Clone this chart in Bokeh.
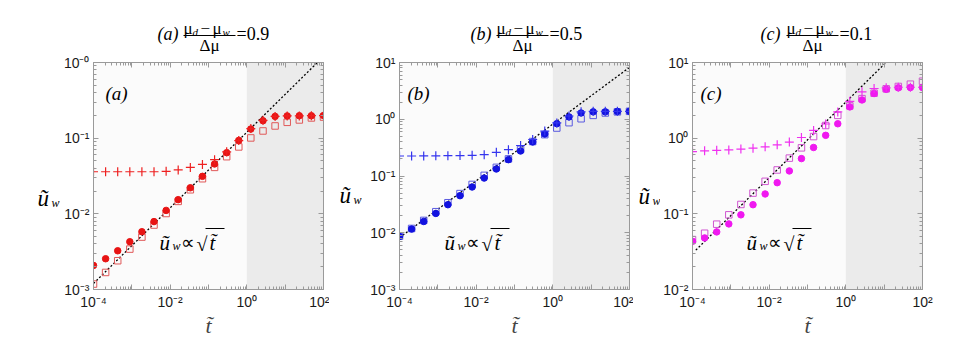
import numpy as np
from bokeh.plotting import figure
from bokeh.models import (Label, BoxAnnotation, FixedTicker, CustomJSTickFormatter,
                          LogAxis, Range1d)
from bokeh.layouts import row, column
from bokeh.embed import file_html
from bokeh.resources import INLINE

# ---------------- data ----------------
T = [1.0e-4, 2.07e-4, 4.28e-4, 8.86e-4, 1.83e-3, 3.79e-3, 7.85e-3, 1.62e-2, 3.36e-2,
     6.95e-2, 0.144, 0.298, 0.616, 1.27, 2.64, 5.46, 11.3, 23.4, 48.3, 100.0]

A_CROSS = [0.036, 0.036, 0.036, 0.036, 0.036, 0.036, 0.0365, 0.038, 0.041, 0.045,
           0.052, 0.066, 0.093, 0.134, 0.172, 0.194, 0.197, 0.197, 0.198, 0.198]
A_CIRCLE = [0.00208, 0.00255, 0.00325, 0.00428, 0.0058, 0.0079, 0.0111, 0.0154, 0.0221, 0.0313,
            0.0456, 0.0643, 0.0935, 0.132, 0.17, 0.194, 0.197, 0.198, 0.198, 0.199]
A_SQUARE = [0.00118, 0.00168, 0.0024, 0.00342, 0.00493, 0.00711, 0.0101, 0.0146, 0.0208, 0.0291,
            0.0411, 0.0569, 0.0766, 0.1007, 0.1245, 0.145, 0.162, 0.174, 0.185, 0.19]

B_CROSS = [0.225, 0.225, 0.226, 0.227, 0.228, 0.229, 0.231, 0.238, 0.261, 0.291,
           0.345, 0.44, 0.62, 0.86, 1.14, 1.35, 1.38, 1.38, 1.38, 1.38]
B_CIRCLE = [0.0086, 0.0116, 0.0158, 0.0219, 0.0312, 0.045, 0.064, 0.092, 0.133, 0.194,
            0.276, 0.398, 0.55, 0.836, 1.1, 1.29, 1.35, 1.35, 1.37, 1.38]
B_SQUARE = [0.0087, 0.0119, 0.0165, 0.0235, 0.0338, 0.049, 0.071, 0.1026, 0.142, 0.2,
            0.294, 0.405, 0.535, 0.70, 0.87, 1.02, 1.17, 1.29, 1.35, 1.38]

C_CROSS = [0.665, 0.68, 0.69, 0.70, 0.717, 0.738, 0.769, 0.817, 0.887, 1.02,
           1.265, 1.54, 2.22, 3.07, 4.1, 4.53, 4.63, 4.71, 4.71, 4.71]
C_CIRCLE = [0.0433, 0.048, 0.0577, 0.0736, 0.097, 0.132, 0.183, 0.258, 0.369, 0.537,
            0.753, 1.09, 1.55, 2.59, 3.2, 3.89, 4.43, 4.63, 4.67, 4.67]
C_SQUARE = [0.0457, 0.0554, 0.073, 0.097, 0.133, 0.188, 0.269, 0.38, 0.545, 0.745,
            1.05, 1.47, 2.0, 2.67, 3.33, 3.93, 4.49, 4.82, 5.17, 5.66]

# reference line  u = coef * sqrt(t)
LINE_COEF = {"a": 0.12, "b": 0.82, "c": 3.0}
LINE_T0 = {"a": 1.0e-4, "b": 1.0e-4, "c": 1.22e-4}
SHADE_START = 1.0

X_EXPS = [-4, -2, 0, 2]
X_LABELS = ["10⁻⁴", "10⁻²", "10⁰", "10²"]
A_Y_EXPS = [-3, -2, -1, 0]
A_Y_LABELS = ["10⁻³", "10⁻²", "10⁻¹", "10⁻⁰"]
B_Y_EXPS = [-3, -2, -1, 0, 1]
B_Y_LABELS = ["10⁻³", "10⁻²", "10⁻¹", "10⁰", "10¹"]
C_Y_EXPS = [-2, -1, 0, 1]
C_Y_LABELS = ["10⁻²", "10⁻¹", "10⁰", "10¹"]

TITLE_VALUES = {"a": "=0.9", "b": "=0.5", "c": "=0.1"}

SERIF = "Liberation Serif"
SANS = "Liberation Sans"
FW, FH = 230, 227
AX_COL = "#9a9a9a"
TITLE_H = 54          # height of the title strip
MAIN_TOP = 8          # top border of the main plot
MAIN_BOTTOM = 40
MAIN_H = MAIN_TOP + FH + MAIN_BOTTOM


def fmt(exps, labels):
    return CustomJSTickFormatter(args=dict(exps=exps, labs=labels), code="""
        const e = Math.round(Math.log10(tick));
        const i = exps.indexOf(e);
        return i >= 0 ? labs[i] : "";
    """)


def log_ticker(e0, e1):
    major = [10.0 ** e for e in range(e0, e1 + 1)]
    minor = [m * 10.0 ** e for e in range(e0, e1) for m in range(2, 10)]
    return FixedTicker(ticks=major, minor_ticks=minor)


def style_axis(ax, blank=False):
    ax.major_tick_in = 5
    ax.major_tick_out = 0
    ax.minor_tick_in = 3
    ax.minor_tick_out = 0
    ax.axis_line_color = AX_COL
    ax.major_tick_line_color = AX_COL
    ax.minor_tick_line_color = AX_COL
    ax.major_label_text_font = SANS
    ax.major_label_text_color = "#1a1a1a"
    ax.major_label_text_font_size = "1px" if blank else "14px"
    ax.major_label_standoff = 0 if blank else 4


def label(fig, x, y, text, size, style="normal", align="left", baseline="alphabetic"):
    fig.add_layout(Label(x=x, y=y, x_units="screen", y_units="screen", text=text,
                         text_font=SERIF, text_font_size=f"{size}px", text_font_style=style,
                         text_align=align, text_baseline=baseline, text_color="black"))


def bar(fig, x0, x1, y, thick=1.0):
    fig.add_layout(BoxAnnotation(left=x0, right=x1, top=y + thick / 2, bottom=y - thick / 2,
                                 left_units="screen", right_units="screen", top_units="screen",
                                 bottom_units="screen", fill_color="black", fill_alpha=1.0,
                                 line_color=None, level="overlay"))


def text_strip(w, h):
    f = figure(x_range=Range1d(0, w), y_range=Range1d(0, h), frame_width=w, frame_height=h,
               min_border_left=0, min_border_right=0, min_border_top=0, min_border_bottom=0,
               x_axis_location=None, y_axis_location=None, output_backend="svg",
               toolbar_location=None)
    f.grid.visible = False
    f.outline_line_color = None
    f.background_fill_color = "white"
    f.border_fill_color = "white"
    return f


def make_panel(key, yexps, ylabels, cross, circle, square, colors,
               fig_left, ylab_w, L, R, title_dx, ylab_x, ylab_base, ann_dx):
    e0, e1 = yexps[0], yexps[-1]
    frame_left = fig_left + ylab_w + L

    p = figure(x_axis_type="log", y_axis_type="log",
               x_range=Range1d(1e-4, 1e2), y_range=Range1d(10.0 ** e0, 10.0 ** e1),
               frame_width=FW, frame_height=FH,
               min_border_left=L, min_border_right=R, min_border_top=MAIN_TOP,
               min_border_bottom=MAIN_BOTTOM, output_backend="svg", toolbar_location=None)
    p.grid.visible = False
    p.background_fill_color = "#fbfbfb"
    p.border_fill_color = "white"
    p.outline_line_color = AX_COL

    xt = log_ticker(-4, 2)
    yt = log_ticker(e0, e1)
    p.xaxis.ticker = xt
    p.yaxis.ticker = yt
    p.xaxis.formatter = fmt(X_EXPS, X_LABELS)
    p.yaxis.formatter = fmt(yexps, ylabels)
    style_axis(p.xaxis[0])
    style_axis(p.yaxis[0])
    p.xaxis.axis_label = "t̃"
    p.xaxis.axis_label_text_font = SERIF
    p.xaxis.axis_label_text_font_size = "22px"
    p.xaxis.axis_label_text_font_style = "italic"
    p.xaxis.axis_label_standoff = 0

    blank = CustomJSTickFormatter(code="return '';")
    top = LogAxis(ticker=xt, formatter=blank)
    style_axis(top, True)
    p.add_layout(top, "above")
    right = LogAxis(ticker=yt, formatter=blank)
    style_axis(right, True)
    p.add_layout(right, "right")

    p.add_layout(BoxAnnotation(left=SHADE_START, fill_color="#ebebeb", fill_alpha=1.0,
                               line_color=None, level="underlay"))

    lt = [LINE_T0[key], 1e2]
    p.line(lt, [LINE_COEF[key] * np.sqrt(t) for t in lt], line_color="black",
           line_dash="2 2", line_width=1.3)

    c_cross, c_circle, c_square = colors
    p.scatter(T, square, marker="square", size=6.5, fill_color=None,
              line_color=c_square, line_width=1.0)
    p.scatter(T, circle, marker="circle", size=6.5, fill_color=c_circle, line_color=c_circle)
    p.scatter(T, cross, marker="cross", size=9, line_color=c_cross, line_width=1.2)

    # labels inside the frame (frame-relative screen units, y up from frame bottom)
    label(p, 8 if key != "a" else 12, FH - 31, f"({key})", 19, style="italic")
    ay = FH - 180
    label(p, ann_dx, ay, "ũ", 21, style="italic")
    label(p, ann_dx + 13, ay - 3, "w", 12, style="italic")
    label(p, ann_dx + 21, ay, "∝", 19)
    label(p, ann_dx + 37, ay - 1, "√", 20)
    label(p, ann_dx + 50, ay, "t̃", 21, style="italic")
    bar(p, ann_dx + 46, ann_dx + 65, FH - 166, 1.0)

    # title strip (page coords -> strip coords)
    tw = ylab_w + L + FW + R
    ts = text_strip(tw, TITLE_H)

    def tput(px, py, text, size, **kw):
        label(ts, px - fig_left, TITLE_H - py, text, size, **kw)

    tx = frame_left + title_dx
    tput(tx, 33, f"({key})", 18, style="italic", baseline="middle")
    tput(tx + 26, 28, "μ", 17)
    tput(tx + 35, 31, "d", 11, style="italic")
    tput(tx + 43, 28, "−", 17)
    tput(tx + 55, 28, "μ", 17)
    tput(tx + 65, 31, "w", 11, style="italic")
    bar(ts, tx + 26 - fig_left, tx + 78 - fig_left, TITLE_H - 35, 1.2)
    tput(tx + 52, 45, "Δμ", 17, align="center")
    tput(tx + 79, 33, TITLE_VALUES[key], 18, baseline="middle")

    # y-label strip
    ys = text_strip(ylab_w, MAIN_H)

    def yput(px, py, text, size, **kw):
        label(ys, px - fig_left, MAIN_H - (py - TITLE_H), text, size, **kw)

    yput(ylab_x, ylab_base, "ũ", 23, style="italic")
    yput(ylab_x + 14, ylab_base + 4, "w", 12, style="italic")

    return column(ts, row(ys, p))


pa = make_panel("a", A_Y_EXPS, A_Y_LABELS, A_CROSS, A_CIRCLE, A_SQUARE,
                ("#ee2020", "#e81414", "#e05858"),
                0, 60, 31, 6, 66, 37, 190, 66)
pb = make_panel("b", B_Y_EXPS, B_Y_LABELS, B_CROSS, B_CIRCLE, B_SQUARE,
                ("#3535ee", "#1212e0", "#5a5ae0"),
                327, 34, 36, 4, 71, 337, 187, 45)
pc = make_panel("c", C_Y_EXPS, C_Y_LABELS, C_CROSS, C_CIRCLE, C_SQUARE,
                ("#f030f0", "#f018f0", "#d055d0"),
                631, 27, 30, 30, 70, 636, 188, 54)

layout = row(pa, pb, pc)
open("out.html", "w").write(file_html(layout, INLINE))
